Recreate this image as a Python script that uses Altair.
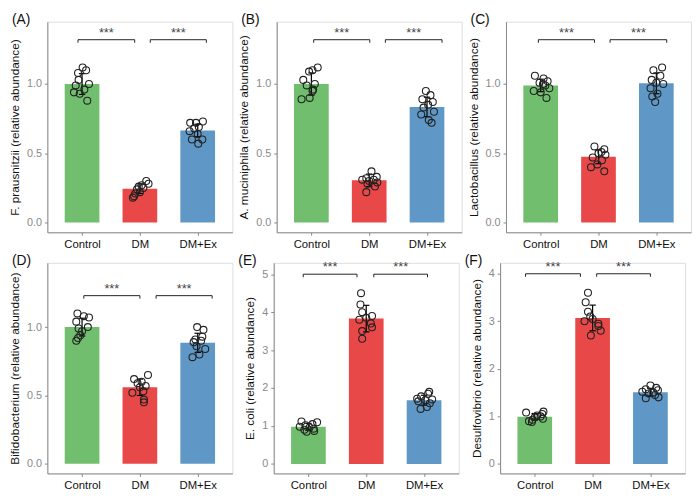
import altair as alt
import pandas as pd

GROUPS = ["Control", "DM", "DM+Ex"]
COLORS = ["#71BF6E", "#E94849", "#5F98C6"]

# ---- Panel A ----
A_TITLE = "F. prausnitzii (relative abundance)"
A_MEANS = [1.0, 0.245, 0.665]
A_SDS = [0.075, 0.035, 0.045]
A_CTRL = [1.12, 1.10, 1.08, 1.03, 1.00, 0.99, 0.96, 0.94, 0.93, 0.88]
A_CTRL_J = [0.01, 0.07, -0.07, -0.06, 0.12, -0.11, 0.04, -0.14, -0.04, 0.09]
A_DM = [0.30, 0.28, 0.27, 0.26, 0.25, 0.24, 0.22, 0.21, 0.19, 0.18]
A_DM_J = [0.11, 0.15, 0.03, -0.02, 0.06, -0.05, 0.0, -0.08, -0.10, -0.12]
A_EX = [0.73, 0.72, 0.72, 0.69, 0.68, 0.66, 0.64, 0.60, 0.60, 0.57]
A_EX_J = [0.09, -0.03, -0.13, 0.02, -0.06, -0.14, 0.0, -0.10, 0.08, 0.01]

# ---- Panel B ----
B_TITLE = "A. muciniphila (relative abundance)"
B_MEANS = [1.0, 0.305, 0.835]
B_SDS = [0.08, 0.045, 0.07]
B_CTRL = [1.12, 1.10, 1.09, 1.03, 1.00, 0.99, 0.96, 0.95, 0.90, 0.89]
B_CTRL_J = [0.11, 0.02, -0.04, -0.14, 0.06, -0.08, 0.03, 0.02, -0.03, -0.17]
B_DM = [0.37, 0.33, 0.32, 0.31, 0.31, 0.30, 0.29, 0.28, 0.26, 0.22]
B_DM_J = [0.04, 0.13, -0.05, -0.12, 0.08, 0.0, 0.14, -0.03, 0.10, -0.05]
B_EX = [0.95, 0.92, 0.89, 0.87, 0.85, 0.83, 0.80, 0.78, 0.74, 0.72]
B_EX_J = [-0.02, 0.06, -0.08, 0.10, 0.02, -0.06, 0.12, -0.10, 0.03, 0.08]

# ---- Panel C ----
C_TITLE = "Lactobacillus (relative abundance)"
C_MEANS = [0.99, 0.475, 1.005]
C_SDS = [0.045, 0.05, 0.075]
C_CTRL = [1.06, 1.04, 1.02, 1.01, 1.00, 0.99, 0.97, 0.95, 0.94, 0.90]
C_CTRL_J = [-0.10, 0.05, 0.12, -0.02, 0.04, 0.08, 0.15, -0.12, 0.0, 0.10]
C_DM = [0.55, 0.53, 0.51, 0.50, 0.49, 0.47, 0.45, 0.42, 0.40, 0.37]
C_DM_J = [-0.07, 0.10, 0.05, 0.0, 0.12, -0.10, 0.06, -0.02, -0.13, 0.10]
C_EX = [1.12, 1.10, 1.06, 1.03, 1.01, 1.00, 0.97, 0.93, 0.91, 0.87]
C_EX_J = [0.10, -0.05, 0.07, -0.08, 0.0, 0.12, -0.10, 0.02, -0.07, -0.02]

# ---- Panel D ----
D_TITLE = "Bifidobacterium (relative abundance)"
D_MEANS = [1.0, 0.56, 0.885]
D_SDS = [0.065, 0.06, 0.07]
D_CTRL = [1.10, 1.08, 1.07, 1.04, 1.00, 0.99, 0.97, 0.94, 0.92, 0.90]
D_CTRL_J = [-0.08, 0.03, 0.12, -0.10, 0.10, -0.06, 0.0, -0.03, -0.07, -0.10]
D_DM = [0.65, 0.62, 0.60, 0.59, 0.57, 0.56, 0.53, 0.52, 0.47, 0.45]
D_DM_J = [0.14, -0.10, 0.03, -0.04, 0.10, 0.0, 0.06, -0.13, 0.07, 0.07]
D_EX = [1.00, 0.98, 0.93, 0.91, 0.90, 0.89, 0.86, 0.84, 0.80, 0.78]
D_EX_J = [-0.01, 0.10, 0.08, -0.04, 0.06, -0.07, -0.02, 0.13, 0.03, -0.09]

# ---- Panel E ----
E_TITLE = "E. coli (relative abundance)"
E_MEANS = [0.98, 3.83, 1.68]
E_SDS = [0.09, 0.35, 0.13]
E_CTRL = [1.12, 1.10, 1.05, 1.02, 0.98, 0.96, 0.93, 0.90, 0.87, 0.85]
E_CTRL_J = [-0.12, 0.15, 0.07, -0.05, -0.15, 0.02, 0.09, -0.07, 0.10, -0.03]
E_DM = [4.50, 4.20, 4.00, 3.90, 3.85, 3.80, 3.70, 3.60, 3.50, 3.30]
E_DM_J = [-0.09, -0.10, -0.07, 0.10, 0.0, -0.12, 0.08, 0.10, -0.07, -0.07]
E_EX = [1.90, 1.85, 1.78, 1.72, 1.70, 1.68, 1.65, 1.60, 1.50, 1.45]
E_EX_J = [0.09, 0.07, -0.05, -0.12, 0.14, 0.02, -0.10, 0.10, 0.05, -0.06]

# ---- Panel F ----
F_TITLE = "Desulfovibrio (relative abundance)"
F_MEANS = [0.99, 3.07, 1.51]
F_SDS = [0.07, 0.27, 0.08]
F_CTRL = [1.10, 1.08, 1.05, 1.02, 1.00, 0.98, 0.95, 0.93, 0.90, 0.88]
F_CTRL_J = [0.15, -0.15, 0.13, 0.04, 0.10, 0.0, 0.14, -0.04, -0.10, -0.05]
F_DM = [3.60, 3.40, 3.20, 3.10, 3.05, 3.00, 2.95, 2.90, 2.80, 2.70]
F_DM_J = [-0.08, -0.12, -0.08, -0.04, 0.0, -0.14, 0.10, 0.10, 0.14, -0.03]
F_EX = [1.65, 1.60, 1.57, 1.55, 1.52, 1.50, 1.48, 1.45, 1.40, 1.38]
F_EX_J = [0.0, 0.10, -0.08, 0.13, -0.14, 0.05, -0.03, 0.08, 0.14, -0.08]

# significance brackets (x start, x end) per panel
A_BR = [(-0.07, 0.91), (1.18, 2.15)]
B_BR = [(0.04, 1.01), (1.28, 2.26)]
C_BR = [(-0.04, 0.93), (1.20, 2.18)]
D_BR = [(0.03, 1.00), (1.28, 2.25)]
E_BR = [(-0.09, 0.84), (1.13, 2.06)]
F_BR = [(-0.16, 0.79), (1.07, 2.00)]

PW = 188
PH = 214
FONT = "Liberation Sans"


def panel(label, title, means, sds, groups_vals, groups_jit, ydom, yticks, yfmt,
          brackets, by, tip):
    xs = alt.Scale(domain=[-0.6, 2.6], nice=False, zero=False)
    ys = alt.Scale(domain=ydom, nice=False, zero=False)
    xa = alt.Axis(values=[0, 1, 2], title=None, grid=False,
                  labelExpr="['Control','DM','DM+Ex'][datum.value]",
                  labelColor="#111", labelFontSize=11.5, tickSize=3, labelPadding=3)
    ya = alt.Axis(values=yticks, format=yfmt, title=title, grid=False,
                  labelColor="#8a8a8a", labelFontSize=11, tickSize=3,
                  titleFontSize=12, titleFontWeight="normal", titleColor="#111",
                  titlePadding=5, labelPadding=3)

    bdf = pd.DataFrame({"idx": [0, 1, 2], "group": GROUPS, "mean": means, "sd": sds})
    base = alt.Chart(bdf).transform_calculate(
        lo="datum.idx - 0.3", hi="datum.idx + 0.3", zero="0",
        top="datum.mean + datum.sd", bot="datum.mean - datum.sd",
        cl="datum.idx - 0.055", cr="datum.idx + 0.055")

    bars = base.mark_bar().encode(
        x=alt.X("lo:Q", scale=xs, axis=xa), x2="hi:Q",
        y=alt.Y("mean:Q", scale=ys, axis=ya), y2="zero:Q",
        color=alt.Color("group:N", scale=alt.Scale(domain=GROUPS, range=COLORS),
                        legend=None))

    rows = []
    for gi, (vals, jits) in enumerate(zip(groups_vals, groups_jit)):
        for v, j in zip(vals, jits):
            rows.append({"idx": gi, "val": v, "jit": j})
    pdf = pd.DataFrame(rows)
    pts = alt.Chart(pdf).transform_calculate(px="datum.idx + datum.jit").mark_point(
        shape="circle", filled=False, color="#222", strokeWidth=1.1, size=50,
        opacity=1).encode(
        x=alt.X("px:Q", scale=xs, axis=xa),
        y=alt.Y("val:Q", scale=ys, axis=ya))

    evert = base.mark_rule(color="black", strokeWidth=1.2).encode(
        x=alt.X("idx:Q", scale=xs, axis=xa),
        y=alt.Y("bot:Q", scale=ys, axis=ya), y2="top:Q")
    ctop = base.mark_rule(color="black", strokeWidth=1.2).encode(
        x=alt.X("cl:Q", scale=xs, axis=xa), x2="cr:Q",
        y=alt.Y("top:Q", scale=ys, axis=ya))
    cbot = base.mark_rule(color="black", strokeWidth=1.2).encode(
        x=alt.X("cl:Q", scale=xs, axis=xa), x2="cr:Q",
        y=alt.Y("bot:Q", scale=ys, axis=ya))

    segs = []
    stars = []
    for a, b in brackets:
        segs.append({"x1": a, "x2": b, "y1": by, "y2": by})
        segs.append({"x1": a, "x2": a, "y1": by - tip, "y2": by})
        segs.append({"x1": b, "x2": b, "y1": by - tip, "y2": by})
        stars.append({"xm": (a + b) / 2, "y": by, "t": "***"})
    br = alt.Chart(pd.DataFrame(segs)).mark_rule(color="#222", strokeWidth=1).encode(
        x=alt.X("x1:Q", scale=xs, axis=xa), x2="x2:Q",
        y=alt.Y("y1:Q", scale=ys, axis=ya), y2="y2:Q")
    st = alt.Chart(pd.DataFrame(stars)).mark_text(
        dy=-7, fontSize=13, color="#444", font=FONT).encode(
        x=alt.X("xm:Q", scale=xs, axis=xa),
        y=alt.Y("y:Q", scale=ys, axis=ya), text="t:N")

    lab = alt.Chart(pd.DataFrame({"t": [label]})).mark_text(
        align="left", baseline="middle", fontSize=14, color="#111", font=FONT).encode(
        x=alt.value(-36), y=alt.value(-2), text="t:N")

    return alt.layer(bars, evert, ctop, cbot, pts, br, st, lab).properties(
        width=PW, height=PH)


pA = panel("(A)", A_TITLE, A_MEANS, A_SDS, [A_CTRL, A_DM, A_EX],
           [A_CTRL_J, A_DM_J, A_EX_J], [-0.07, 1.45], [0, 0.5, 1.0], ".1f",
           A_BR, 1.32, 0.022)
pB = panel("(B)", B_TITLE, B_MEANS, B_SDS, [B_CTRL, B_DM, B_EX],
           [B_CTRL_J, B_DM_J, B_EX_J], [-0.07, 1.45], [0, 0.5, 1.0], ".1f",
           B_BR, 1.32, 0.022)
pC = panel("(C)", C_TITLE, C_MEANS, C_SDS, [C_CTRL, C_DM, C_EX],
           [C_CTRL_J, C_DM_J, C_EX_J], [-0.07, 1.45], [0, 0.5, 1.0], ".1f",
           C_BR, 1.32, 0.022)
pD = panel("(D)", D_TITLE, D_MEANS, D_SDS, [D_CTRL, D_DM, D_EX],
           [D_CTRL_J, D_DM_J, D_EX_J], [-0.07, 1.47], [0, 0.5, 1.0], ".1f",
           D_BR, 1.23, 0.022)
pE = panel("(E)", E_TITLE, E_MEANS, E_SDS, [E_CTRL, E_DM, E_EX],
           [E_CTRL_J, E_DM_J, E_EX_J], [-0.25, 5.3], [0, 1, 2, 3, 4, 5], "d",
           E_BR, 5.0, 0.08)
pF = panel("(F)", F_TITLE, F_MEANS, F_SDS, [F_CTRL, F_DM, F_EX],
           [F_CTRL_J, F_DM_J, F_EX_J], [-0.2, 4.23], [0, 1, 2, 3, 4], "d",
           F_BR, 4.0, 0.063)

row1 = alt.hconcat(pA, pB, pC, spacing=4)
row2 = alt.hconcat(pD, pE, pF, spacing=4)

chart = alt.vconcat(row1, row2, spacing=3).configure_view(stroke=None).configure_axis(
    domainColor="#222", tickColor="#222", labelFont=FONT, titleFont=FONT,
    domainWidth=1, tickWidth=1).configure(background="white", padding=0)

chart.save("out.html", embed_options={"renderer": "svg", "actions": False})
